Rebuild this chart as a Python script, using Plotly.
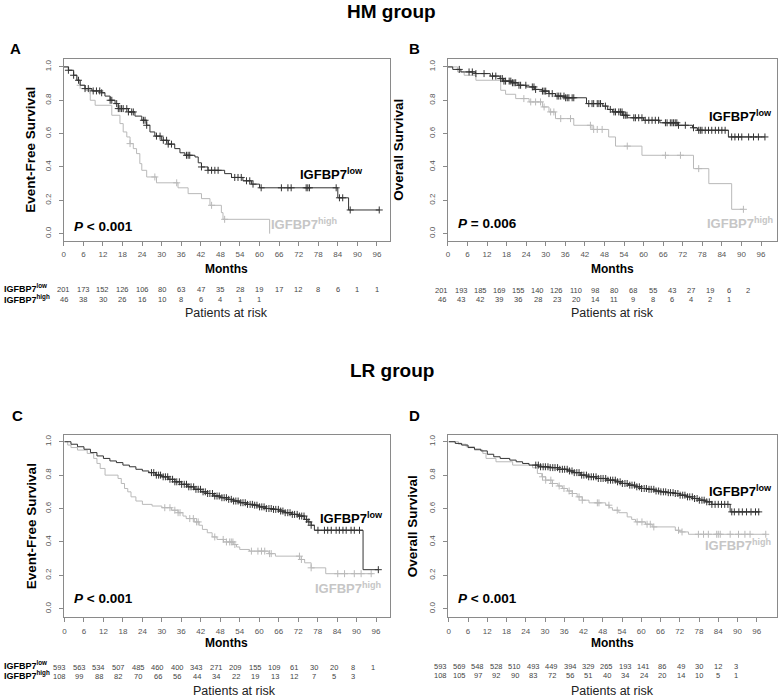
import plotly.graph_objects as go

W, H = 778, 699

month_ticks = list(range(0, 97, 6))
surv_ticks = [0.0, 0.2, 0.4, 0.6, 0.8, 1.0]

# ---------------- Panel A : HM group, event-free survival ----------------
a_low_t = [0, 1.4, 3, 4, 5, 6.5, 8.6, 11.6, 12.6, 14.2, 15.7, 16.7, 19.8, 21.8, 23.9, 25.4, 26.4, 27.9,
           30, 32, 34, 35.6, 37.1, 40.2, 41.2, 42.2, 44.2, 49.3, 51.4, 54.9, 57.5, 60, 84, 87.3, 96.7]
a_low_s = [1.0, 0.98, 0.95, 0.92, 0.89, 0.87, 0.856, 0.845, 0.825, 0.80, 0.78, 0.75, 0.73, 0.705, 0.68, 0.65,
           0.61, 0.585, 0.56, 0.537, 0.51, 0.485, 0.47, 0.46, 0.425, 0.40, 0.38, 0.36, 0.337, 0.317, 0.297,
           0.275, 0.215, 0.142, 0.142]
a_low_cens = [1.4, 3, 4.5, 6.5, 7.5, 9, 10, 11, 11.6, 14.2, 14.7, 16.2, 16.7, 17.2, 17.7, 18.2, 19.3, 19.8,
              20.8, 21.3, 24.4, 24.9, 25.4, 28.4, 29.5, 30.5, 31.5, 32, 33, 37.6, 38.1, 38.6, 42.2, 44.2,
              45.3, 46.3, 47.3, 52.4, 53.4, 54.4, 56, 57, 58, 60.5, 66.7, 68.7, 69.7, 74.3, 74.8, 75.3,
              83.5, 84.5, 85.5, 87.8, 96.7]
a_high_t = [0, 1.5, 3, 4, 5, 6.5, 8.1, 9.6, 14.7, 17.2, 18.2, 19.3, 20.3, 21.3, 22.3, 23.3, 23.9, 25.4,
            28.4, 35, 38.1, 42.2, 44.8, 48.3, 48.8, 63.1]
a_high_s = [1.0, 0.98, 0.95, 0.92, 0.89, 0.86, 0.80, 0.77, 0.71, 0.66, 0.61, 0.58, 0.54, 0.51, 0.48, 0.42,
            0.38, 0.34, 0.305, 0.275, 0.24, 0.21, 0.17, 0.126, 0.086, 0.0]
a_high_cens = [5, 8, 20.3, 27.9, 34.6, 45.3, 49.3]
a_risk_low = [201, 173, 152, 126, 106, 80, 63, 47, 35, 28, 19, 17, 12, 8, 6, 1, 1]
a_risk_high = [46, 38, 30, 26, 16, 10, 8, 6, 4, 1, 1]

# ---------------- Panel B : HM group, overall survival ----------------
b_low_t = [0, 1.5, 4, 8.5, 13, 16, 17, 19.5, 21.5, 24, 26.5, 29, 31, 33, 36, 42.5, 47.5, 49, 50.5, 53.5,
           55, 60, 65, 70.5, 75, 76.5, 86, 97.2]
b_low_s = [1.0, 0.985, 0.97, 0.96, 0.945, 0.93, 0.915, 0.905, 0.89, 0.88, 0.865, 0.855, 0.84, 0.825, 0.815,
           0.78, 0.765, 0.745, 0.73, 0.71, 0.695, 0.68, 0.665, 0.65, 0.635, 0.62, 0.58, 0.58]
b_low_cens = [3.5, 6.5, 7.5, 8.6, 11.1, 13.7, 14.7, 16.2, 16.7, 17.2, 17.7, 18.8, 19.3, 19.8, 20.3, 20.8,
              21.8, 22.3, 23.9, 25.9, 26.4, 26.9, 29, 29.5, 30, 31, 32, 33.5, 34, 34.6, 35.6, 36.1, 36.6,
              37.1, 38.1, 38.6, 43.2, 44.2, 44.7, 45.8, 46.3, 46.8, 48.3, 49.8, 50.9, 51.4, 52.4, 52.9,
              53.4, 53.9, 54.4, 54.9, 57, 57.5, 58.5, 59.5, 60.5, 61.6, 62.6, 63.6, 64.6, 66.7, 67.2,
              68.2, 68.7, 69.2, 69.7, 70.2, 70.7, 72.8, 75.3, 76.9, 77.4, 77.9, 78.9, 79.9, 80.9, 82, 83,
              84, 85, 87, 88, 89.1, 90.1, 92.2, 93.7, 95.2, 97.2]
b_high_t = [0, 3, 5, 8.6, 16.2, 17.7, 20.8, 24.9, 29, 31, 33, 38.6, 44.2, 49.3, 51.4, 59.5, 75.3, 80, 87, 90.6]
b_high_s = [1.0, 0.97, 0.95, 0.92, 0.86, 0.836, 0.81, 0.79, 0.76, 0.73, 0.69, 0.65, 0.625, 0.58, 0.525,
            0.47, 0.39, 0.30, 0.146, 0.146]
b_high_cens = [23.3, 25.4, 26.9, 28.4, 29.5, 31.5, 32.5, 34.6, 37.6, 43.7, 44.7, 45.8, 47.3, 55, 66.7,
               71.3, 76.9, 90.6]
b_risk_low = [201, 193, 185, 169, 155, 140, 126, 110, 98, 80, 68, 55, 43, 27, 19, 6, 2]
b_risk_high = [46, 43, 42, 39, 36, 28, 23, 20, 14, 11, 9, 8, 6, 4, 2, 1]

# ---------------- Panel C : LR group, event-free survival ----------------
c_low_t = [0, 2, 4, 6, 8, 10, 12, 14, 16, 18, 20, 22, 24, 26, 28, 30, 32, 34, 36, 38, 40, 42, 44, 46, 48,
           50, 52, 54, 56, 58, 60, 62, 64, 66, 68, 70, 72, 74, 75, 76, 77, 92, 96.7]
c_low_s = [1.0, 0.985, 0.97, 0.955, 0.935, 0.915, 0.90, 0.885, 0.875, 0.86, 0.85, 0.835, 0.825, 0.815,
           0.80, 0.79, 0.775, 0.76, 0.745, 0.73, 0.715, 0.70, 0.69, 0.675, 0.665, 0.655, 0.645, 0.635,
           0.625, 0.62, 0.61, 0.60, 0.595, 0.585, 0.575, 0.565, 0.555, 0.535, 0.52, 0.50, 0.47, 0.234, 0.234]
c_low_cens = [26.8, 27.5, 28.3, 29.0, 29.6, 30.4, 31.1, 31.8, 32.5, 33.3, 34.0, 34.6, 35.4, 36.1, 36.9,
              37.6, 38.3, 39.0, 39.8, 40.5, 41.2, 41.9, 42.7, 43.4, 44.1, 44.8, 45.6, 46.3, 47.0, 47.7,
              48.5, 49.2, 49.9, 50.6, 51.4, 52.1, 52.8, 53.5, 54.3, 55.0, 55.7, 56.4, 57.2, 57.9, 58.6,
              59.3, 60.1, 60.8, 61.5, 62.2, 63.0, 63.7, 64.4, 65.1, 65.9, 66.6, 67.3, 68.0, 68.8, 69.5,
              70.2, 70.9, 71.7, 72.4, 73.1, 73.8, 74.6, 75.3, 76.0, 78.1, 80.1, 81.1, 82.2, 83.7, 84.7,
              85.8, 86.8, 88.3, 89.3, 90.9, 96.7]
c_high_t = [0, 1, 2, 4, 7, 9, 10, 11, 12.5, 16.5, 17.5, 18.5, 19.5, 20.5, 22, 24, 27, 30, 33, 35, 36.5,
            37.5, 40, 41.5, 42.5, 44, 45.5, 47, 49, 52, 53, 54, 57, 63, 65, 72.5, 74, 76, 80.5, 95]
c_high_s = [1.0, 0.98, 0.965, 0.95, 0.93, 0.90, 0.87, 0.84, 0.80, 0.78, 0.75, 0.72, 0.70, 0.67, 0.645,
            0.625, 0.615, 0.605, 0.59, 0.575, 0.555, 0.54, 0.52, 0.50, 0.475, 0.455, 0.43, 0.415, 0.40,
            0.385, 0.37, 0.355, 0.345, 0.33, 0.315, 0.295, 0.275, 0.245, 0.21, 0.21]
c_high_cens = [30.9, 32.5, 34, 35, 35.6, 38.6, 39.7, 40.7, 41.2, 46.3, 48.9, 49.9, 50.9, 51.4, 51.9, 52.5,
               57.6, 59.6, 60.7, 61.7, 63.2, 63.7, 72.4, 73, 76, 84.2, 86.3, 89.3, 91.4, 94.5]
c_risk_low = [593, 563, 534, 507, 485, 460, 400, 343, 271, 209, 155, 109, 61, 30, 20, 8, 1]
c_risk_high = [108, 99, 88, 82, 70, 66, 56, 44, 34, 22, 19, 13, 12, 7, 5, 3]

# ---------------- Panel D : LR group, overall survival ----------------
d_low_t = [0, 2, 4, 6, 8, 10, 12, 14, 16, 19, 21, 23, 25, 28, 31, 34, 37, 39, 41, 43, 46, 49, 52, 54, 56,
           58, 60, 62, 64, 66, 68, 70, 72, 74, 76, 78, 80, 82, 87.7, 97]
d_low_s = [1.0, 0.99, 0.98, 0.965, 0.955, 0.945, 0.925, 0.91, 0.90, 0.89, 0.88, 0.87, 0.86, 0.85, 0.845,
           0.835, 0.825, 0.815, 0.80, 0.79, 0.78, 0.77, 0.76, 0.75, 0.74, 0.73, 0.72, 0.715, 0.705, 0.70,
           0.695, 0.69, 0.68, 0.67, 0.66, 0.65, 0.64, 0.625, 0.58, 0.58]
d_low_cens = [27.1, 27.9, 28.6, 29.4, 30.1, 30.9, 31.6, 32.4, 33.1, 33.9, 34.6, 35.4, 36.1, 36.9, 37.6,
              38.4, 39.1, 39.9, 40.6, 41.4, 42.1, 42.9, 43.6, 44.4, 45.1, 45.9, 46.6, 47.4, 48.1, 48.9,
              49.6, 50.4, 51.1, 51.9, 52.6, 53.4, 54.1, 54.9, 55.6, 56.4, 57.1, 57.9, 58.6, 59.4, 60.1,
              60.9, 61.6, 62.4, 63.1, 63.9, 64.6, 65.4, 66.1, 66.9, 67.6, 68.4, 69.1, 69.9, 70.6, 71.4,
              72.1, 72.9, 73.6, 74.4, 75.1, 75.9, 76.6, 77.4, 78.1, 78.9, 79.6, 80.4, 81.2, 82.0, 83.0,
              84.0, 85.0, 86.0, 87.0, 88.2, 89.0, 90.4, 91.5, 92.8, 94.2, 95.6, 96.6]
d_high_t = [0, 3, 5.4, 8, 10.6, 11.6, 14.7, 19.9, 26.1, 27.6, 29, 30.2, 32.3, 34, 35.4, 37, 38.5, 40,
            41.6, 43.7, 48.9, 50, 51, 53, 55.6, 57, 58.2, 61.3, 63.4, 70.6, 72, 74.7, 98.8]
d_high_s = [1.0, 0.985, 0.97, 0.95, 0.93, 0.90, 0.88, 0.86, 0.844, 0.81, 0.79, 0.77, 0.75, 0.735, 0.72,
            0.705, 0.69, 0.67, 0.65, 0.634, 0.62, 0.605, 0.59, 0.575, 0.55, 0.535, 0.52, 0.506, 0.49,
            0.47, 0.46, 0.446, 0.446]
d_high_cens = [29.2, 30.2, 31.8, 32.3, 34.4, 35.9, 37.5, 38.5, 40.6, 41.6, 46.3, 46.8, 49.9, 52.5, 58.7,
               60.2, 61.8, 62.8, 63.9, 71.6, 72.7, 77.8, 79.4, 80.9, 83.5, 84, 84.6, 87.7, 90.3, 92.3,
               93.9, 98.8]
d_risk_low = [593, 569, 548, 528, 510, 493, 449, 394, 329, 265, 193, 141, 86, 49, 30, 12, 3]
d_risk_high = [108, 105, 97, 92, 90, 83, 72, 56, 51, 40, 34, 24, 20, 14, 10, 5, 1]

p_values = ["<i>P</i> < 0.001", "<i>P</i> = 0.006", "<i>P</i> < 0.001", "<i>P</i> < 0.001"]
y_titles = ["Event-Free Survival", "Overall Survival", "Event-Free Survival", "Overall Survival"]
panel_letters = ["A", "B", "C", "D"]
group_titles = ["HM group", "LR group"]

# ---------------- styling / layout constants (pixels) ----------------
FONT = "Liberation Sans, Arial, sans-serif"
DARK = "#333333"
LIGHT = "#b9b9b9"
LIGHT_TXT = "#c6c6c6"
FRAME = "#8a8a8a"


def px(x):
    return x / W


def py(y):
    return 1 - y / H


# plot boxes: (left, right, top, bottom) in pixels, with x range and y range
boxes = [
    dict(l=62, r=389, t=58, b=240, xr=[0, 100], yr=[-0.042, 1.048]),
    dict(l=447, r=777, t=58, b=240, xr=[0, 100.9], yr=[-0.042, 1.048]),
    dict(l=62, r=389, t=435, b=617, xr=[-0.2, 100.3], yr=[-0.05, 1.038]),
    dict(l=447, r=777, t=435, b=617, xr=[-0.3, 102.3], yr=[-0.05, 1.038]),
]

panels = [
    (a_low_t, a_low_s, a_low_cens, a_high_t, a_high_s, a_high_cens),
    (b_low_t, b_low_s, b_low_cens, b_high_t, b_high_s, b_high_cens),
    (c_low_t, c_low_s, c_low_cens, c_high_t, c_high_s, c_high_cens),
    (d_low_t, d_low_s, d_low_cens, d_high_t, d_high_s, d_high_cens),
]


def step_value(ts, ss, t):
    v = ss[0]
    for ti, si in zip(ts, ss):
        if ti <= t:
            v = si
        else:
            break
    return v


fig = go.Figure()
layout = {}
for i, (box, pdata) in enumerate(zip(boxes, panels)):
    n = "" if i == 0 else str(i + 1)
    xa, ya = "x" + n, "y" + n
    lt, ls, lc, ht, hs, hc = pdata
    for ts, ss, cs, col in [(ht, hs, hc, LIGHT), (lt, ls, lc, DARK)]:
        fig.add_trace(go.Scatter(x=ts, y=ss, mode="lines", line=dict(color=col, width=1, shape="hv"),
                                 xaxis=xa, yaxis=ya, showlegend=False, hoverinfo="skip"))
        fig.add_trace(go.Scatter(x=cs, y=[step_value(ts, ss, c) for c in cs], mode="markers",
                                 marker=dict(symbol="cross-thin", size=5, line=dict(color=col, width=1)),
                                 xaxis=xa, yaxis=ya, showlegend=False, hoverinfo="skip"))
    common = dict(showline=True, linecolor=FRAME, linewidth=1, mirror=True, showgrid=False,
                  zeroline=False, ticks="outside", ticklen=4, tickcolor=FRAME, tickwidth=1,
                  tickfont=dict(family=FONT, size=8, color="#555555"))
    layout["xaxis" + n] = dict(common, domain=[px(box["l"]), px(box["r"])], range=box["xr"],
                               tickvals=month_ticks, anchor=ya, ticklabelstandoff=2)
    layout["yaxis" + n] = dict(common, domain=[py(box["b"]), py(box["t"])], range=box["yr"],
                               tickvals=surv_ticks, ticktext=["%.1f" % v for v in surv_ticks],
                               tickangle=-90, anchor=xa, ticklabelstandoff=5)

ann = []


def text(x, y, s, size, color="#000000", xanchor="center", yanchor="middle", angle=0):
    ann.append(dict(x=px(x), y=py(y), xref="paper", yref="paper", text=s, showarrow=False,
                    xanchor=xanchor, yanchor=yanchor, textangle=angle,
                    font=dict(family=FONT, size=size, color=color)))


# group titles
text(391, 11, "<b>%s</b>" % group_titles[0], 19)
text(391, 370, "<b>%s</b>" % group_titles[1], 19)

# panel letters
for (x, y), s in zip([(14, 48), (414, 48), (16, 415), (414, 415)], panel_letters):
    text(x, y, "<b>%s</b>" % s, 15)

# y titles
for (x, y), s in zip([(29, 149), (398, 149), (29, 526), (411, 526)], y_titles):
    text(x, y, "<b>%s</b>" % s, 13.5, angle=-90)

# x titles and "Patients at risk"
for (x, y) in [(225, 268), (612, 268), (225, 643), (612, 643)]:
    text(x, y, "<b>Months</b>", 12)
for (x, y) in [(225, 312), (612, 312), (233, 691), (612, 691)]:
    text(x, y, "Patients at risk", 12.5, color="#222222")

# p values
for (x, y), s in zip([(70, 226), (455, 223), (70, 598), (455, 598)], p_values):
    text(x, y, "<b>%s</b>" % s, 13.5, xanchor="left")

# curve labels
low_pos = [(297, 173), (707, 115), (317, 518), (707, 491)]
high_pos = [(268, 223), (705, 222), (312, 588), (703, 545)]
for (x, y) in low_pos:
    text(x, y, "<b>IGFBP7<sup>low</sup></b>", 13, xanchor="left")
for (x, y) in high_pos:
    text(x, y, "<b>IGFBP7<sup>high</sup></b>", 13, color=LIGHT_TXT, xanchor="left")

# risk tables: (x0, dx, y_low, y_high)
tables = [
    (62, 19.6, 289, 299, a_risk_low, a_risk_high, True),
    (441, 19.2, 290, 299, b_risk_low, b_risk_high, False),
    (58, 19.6, 667, 676, c_risk_low, c_risk_high, True),
    (440, 18.5, 666, 675, d_risk_low, d_risk_high, False),
]
for x0, dx, yl, yh, rl, rh, labels in tables:
    for k, v in enumerate(rl):
        text(x0 + k * dx, yl, str(v), 7.5, color="#444444")
    for k, v in enumerate(rh):
        text(x0 + k * dx, yh, str(v), 7.5, color="#444444")
    if labels:
        text(0, yl - 2, "<b>IGFBP7<sup>low</sup></b>", 9, xanchor="left")
        text(0, yh - 1, "<b>IGFBP7<sup>high</sup></b>", 9, xanchor="left")

fig.update_layout(width=W, height=H, margin=dict(l=0, r=0, t=0, b=0), paper_bgcolor="white",
                  plot_bgcolor="white", showlegend=False, annotations=ann, **layout)

fig.write_html("out.html", config={"displayModeBar": False},
               post_script="document.body.style.margin='0';")
